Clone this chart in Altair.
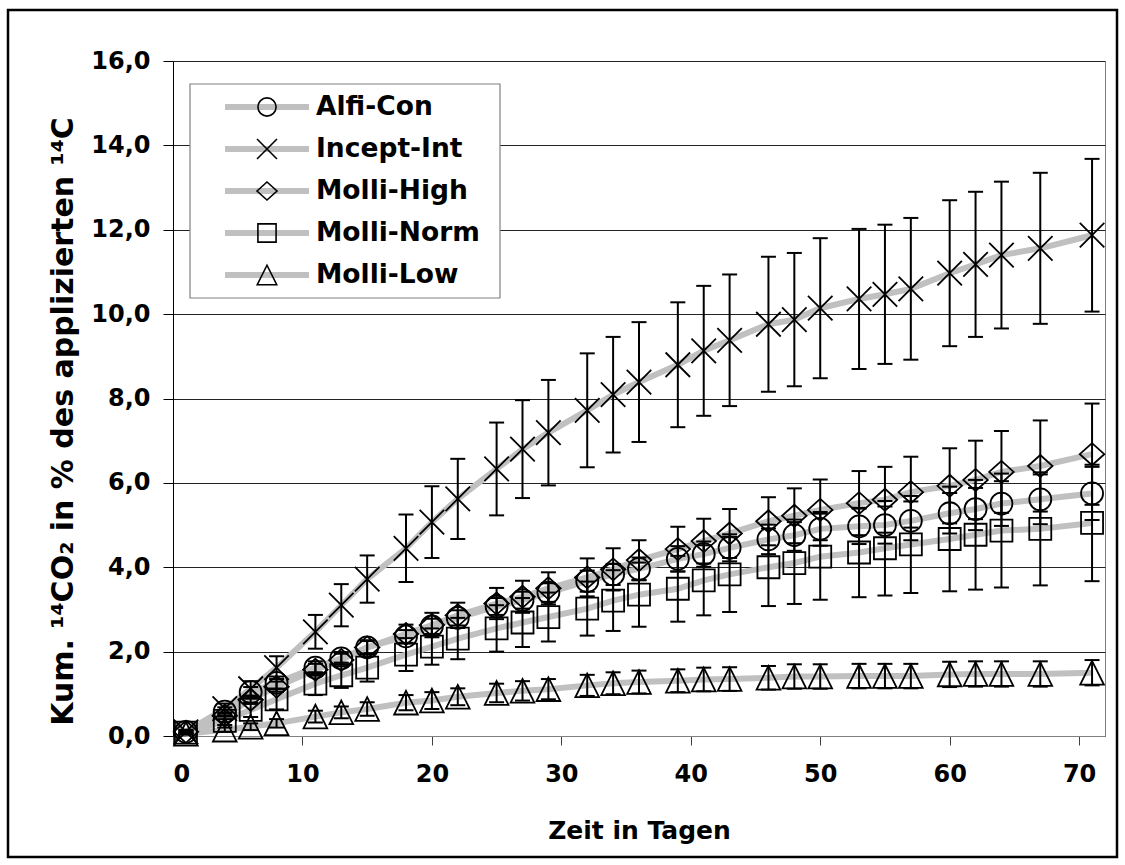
import altair as alt
import pandas as pd

# Sampling days
days = [1, 4, 6, 8, 11, 13, 15, 18, 20, 22, 25, 27, 29, 32, 34, 36, 39, 41, 43,
        46, 48, 50, 53, 55, 57, 60, 62, 64, 67, 71]

series_names = ["Alfi-Con", "Incept-Int", "Molli-High", "Molli-Norm", "Molli-Low"]

# Cumulative 14CO2 (% of applied 14C), mean and standard deviation per series
alfi_con = [0.10, 0.58, 1.04, 1.26, 1.62, 1.84, 2.10, 2.36, 2.60, 2.80, 3.07, 3.22, 3.40, 3.67, 3.83,
            3.96, 4.20, 4.31, 4.46, 4.66, 4.76, 4.91, 4.97, 5.00, 5.10, 5.28, 5.38, 5.51, 5.61, 5.75]
alfi_con_sd = [0.05, 0.10, 0.12, 0.15, 0.15, 0.15, 0.15, 0.15, 0.18, 0.18, 0.20, 0.20, 0.22, 0.25, 0.25,
               0.27, 0.30, 0.30, 0.32, 0.35, 0.37, 0.40, 0.42, 0.44, 0.46, 0.48, 0.50, 0.53, 0.59, 0.63]

incept_int = [0.10, 0.65, 1.12, 1.62, 2.47, 3.10, 3.72, 4.45, 5.07, 5.62, 6.33, 6.80, 7.19, 7.72, 8.09,
              8.39, 8.80, 9.13, 9.38, 9.76, 9.87, 10.14, 10.36, 10.47, 10.60, 10.97, 11.18, 11.40, 11.56, 11.87]
incept_int_sd = [0.03, 0.12, 0.18, 0.27, 0.40, 0.50, 0.56, 0.80, 0.85, 0.95, 1.10, 1.16, 1.25, 1.35, 1.37,
                 1.42, 1.48, 1.54, 1.56, 1.60, 1.58, 1.66, 1.66, 1.65, 1.68, 1.73, 1.72, 1.74, 1.79, 1.81]

molli_high = [0.10, 0.48, 0.86, 1.17, 1.57, 1.80, 2.10, 2.42, 2.63, 2.86, 3.14, 3.30, 3.50, 3.76, 3.95,
              4.17, 4.43, 4.62, 4.80, 5.09, 5.22, 5.36, 5.52, 5.60, 5.78, 5.93, 6.07, 6.26, 6.40, 6.68]
molli_high_sd = [0.03, 0.08, 0.10, 0.12, 0.14, 0.15, 0.17, 0.22, 0.29, 0.30, 0.37, 0.38, 0.38, 0.45, 0.50,
                 0.47, 0.53, 0.53, 0.58, 0.57, 0.65, 0.72, 0.76, 0.78, 0.84, 0.89, 0.93, 0.97, 1.08, 1.20]

molli_norm = [0.08, 0.36, 0.62, 0.87, 1.24, 1.44, 1.62, 1.93, 2.12, 2.31, 2.55, 2.69, 2.82, 3.02, 3.21,
              3.35, 3.49, 3.69, 3.83, 4.00, 4.10, 4.25, 4.35, 4.45, 4.54, 4.67, 4.77, 4.87, 4.91, 5.05]
molli_norm_sd = [0.03, 0.10, 0.17, 0.24, 0.27, 0.30, 0.33, 0.39, 0.43, 0.49, 0.55, 0.58, 0.58, 0.64, 0.72,
                 0.76, 0.78, 0.83, 0.89, 0.92, 0.97, 1.02, 1.06, 1.12, 1.15, 1.24, 1.30, 1.35, 1.34, 1.38]

molli_low = [0.05, 0.15, 0.22, 0.30, 0.46, 0.56, 0.64, 0.79, 0.84, 0.93, 1.02, 1.07, 1.11, 1.20, 1.25,
             1.28, 1.31, 1.34, 1.35, 1.38, 1.41, 1.41, 1.42, 1.42, 1.42, 1.46, 1.47, 1.47, 1.47, 1.50]
molli_low_sd = [0.02, 0.05, 0.08, 0.10, 0.14, 0.14, 0.16, 0.18, 0.20, 0.20, 0.22, 0.23, 0.24, 0.25, 0.26,
                0.27, 0.27, 0.28, 0.28, 0.28, 0.29, 0.29, 0.29, 0.29, 0.29, 0.30, 0.30, 0.30, 0.30, 0.30]

y_ticks = [0, 2, 4, 6, 8, 10, 12, 14, 16]
x_ticks = [0, 10, 20, 30, 40, 50, 60, 70]

means = [alfi_con, incept_int, molli_high, molli_norm, molli_low]
sds = [alfi_con_sd, incept_int_sd, molli_high_sd, molli_norm_sd, molli_low_sd]

rows = []
for name, m, s in zip(series_names, means, sds):
    for d, v, e in zip(days, m, s):
        rows.append({"day": d, "series": name, "mean": v, "lo": v - e, "hi": v + e})
df = pd.DataFrame(rows)

# Marker shapes (SVG paths in the unit square) and sizes
shapes = {
    "Alfi-Con": ("circle", 484),
    "Incept-Int": ("M-1,-1L1,1M1,-1L-1,1", 600),
    "Molli-High": ("M-1,0L0,-0.9L1,0L0,0.9Z", 600),
    "Molli-Norm": ("square", 484),
    "Molli-Low": ("M0,-1L1,1L-1,1Z", 560),
}
legend_sizes = {"Alfi-Con": 330, "Incept-Int": 400, "Molli-High": 400, "Molli-Norm": 330, "Molli-Low": 380}

FONT = "DejaVu Sans"

x_enc = alt.X("day:Q", scale=alt.Scale(domain=[0, 72], nice=False),
              axis=alt.Axis(values=x_ticks, title="Zeit in Tagen", grid=False,
                            tickSize=9, labelPadding=17, titleY=94,
                            titleBaseline="middle", domainColor="#808080",
                            tickColor="#404040"))
y_scale = alt.Scale(domain=[0, 16], nice=False)
y_axis = alt.Axis(values=y_ticks, title="Kum. ¹⁴CO₂ in % des applizierten  ¹⁴C",
                  labelExpr="replace(format(datum.value, '.1f'), '.', ',')",
                  grid=True, gridColor="#222222", gridWidth=1,
                  tickSize=10, labelPadding=13, domainColor="#000000", tickColor="#000000",
                  titleX=-110, titleY=360, titleAngle=270, titleAlign="center",
                  titleBaseline="middle", titleFontSize=30)

base = alt.Chart(df)

lines = base.mark_line(color="#c0c0c0", strokeWidth=6).encode(
    x=x_enc,
    y=alt.Y("mean:Q", scale=y_scale, axis=y_axis),
    detail="series:N",
)

point_layers = []
for name in series_names:
    shp, sz = shapes[name]
    point_layers.append(
        base.transform_filter(alt.datum.series == name)
        .mark_point(shape=shp, size=sz, filled=False, stroke="black", strokeWidth=1.8, opacity=1)
        .encode(x="day:Q", y="mean:Q")
    )

err_rules = base.mark_rule(color="black", strokeWidth=2).encode(
    x="day:Q", y="lo:Q", y2="hi:Q"
)
cap_hi = base.mark_rule(color="black", strokeWidth=2, xOffset=-7.5, x2Offset=7.5).encode(
    x="day:Q", x2="day:Q", y="hi:Q"
)
cap_lo = base.mark_rule(color="black", strokeWidth=2, xOffset=-7.5, x2Offset=7.5).encode(
    x="day:Q", x2="day:Q", y="lo:Q"
)

# Legend box with line samples, markers and labels
legend_df = pd.DataFrame({"series": series_names, "ypx": [46 + 42 * i for i in range(5)]})
leg = alt.Chart(legend_df)
leg_box = alt.Chart(pd.DataFrame({"k": [0]})).mark_rect(
    fill="white", stroke="#808080", strokeWidth=1.2
).encode(x=alt.value(17), x2=alt.value(327), y=alt.value(23), y2=alt.value(237))
leg_lines = leg.mark_rule(color="#c0c0c0", strokeWidth=6).encode(
    x=alt.value(52), x2=alt.value(136), y=alt.Y("ypx:Q", scale=None)
)
leg_points = []
for name in series_names:
    shp, _ = shapes[name]
    leg_points.append(
        leg.transform_filter(alt.datum.series == name)
        .mark_point(shape=shp, size=legend_sizes[name], filled=False, stroke="black",
                    strokeWidth=1.6, opacity=1)
        .encode(x=alt.value(94), y=alt.Y("ypx:Q", scale=None))
    )
leg_text = leg.mark_text(align="left", baseline="middle", font=FONT, fontWeight="bold",
                         fontSize=26.5, color="black").encode(
    x=alt.value(143), y=alt.Y("ypx:Q", scale=None), text="series:N"
)

# Outer frame of the chart
frame = alt.Chart(pd.DataFrame({"k": [0]})).mark_rect(
    fill=None, stroke="black", strokeWidth=2.5
).encode(x=alt.value(-165), x2=alt.value(944), y=alt.value(-51), y2=alt.value(796))

chart = alt.layer(
    lines, *point_layers, err_rules, cap_hi, cap_lo,
    leg_box, leg_lines, *leg_points, leg_text, frame
).properties(
    width=932, height=675,
    autosize=alt.AutoSizeParams(type="none"),
    padding={"left": 173, "top": 61, "right": 20, "bottom": 129},
    background="white",
).configure_view(
    stroke="#808080", strokeWidth=1
).configure_axis(
    labelFont=FONT, labelFontWeight="bold", labelFontSize=24, labelColor="black",
    titleFont=FONT, titleFontWeight="bold", titleFontSize=25, titleColor="black",
)

chart.save("out.html", embed_options={"renderer": "svg", "actions": False})
